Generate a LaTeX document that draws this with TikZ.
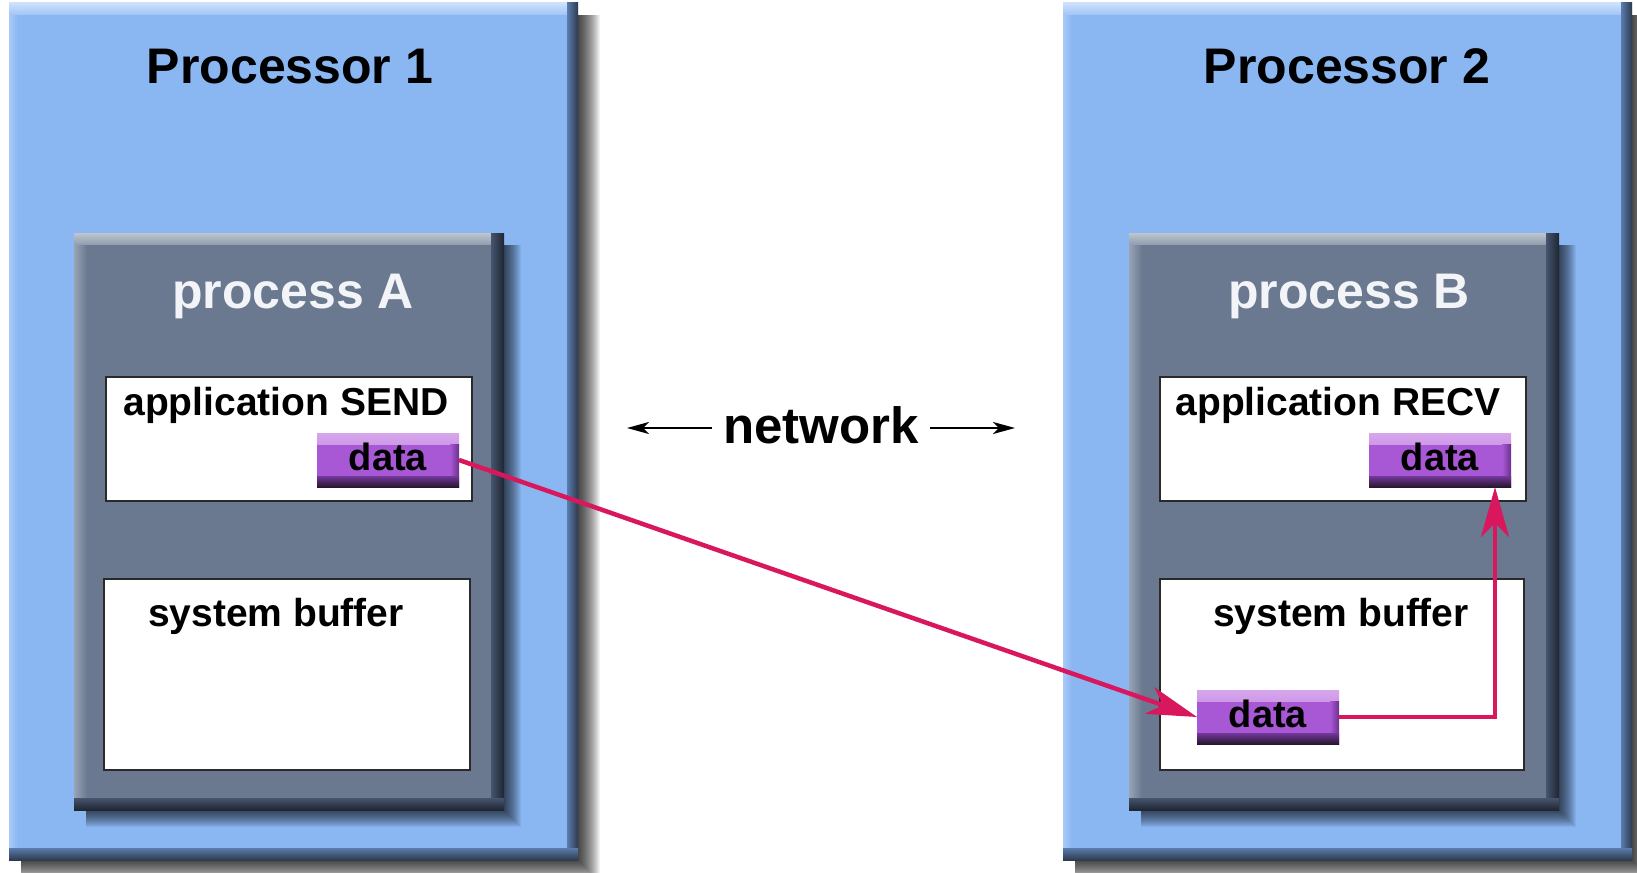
\documentclass[tikz,border=0pt]{standalone}
\usepackage{fontspec}
\setmainfont{Liberation Sans}
\usetikzlibrary{arrows.meta}
\definecolor{procblue}{HTML}{8AB6F2}
\definecolor{proctop}{HTML}{CCE1FD}
\definecolor{proctop2}{HTML}{A2C4F6}
\definecolor{procleft}{HTML}{A8CAF8}
\definecolor{procdarkA}{HTML}{5A7CAE}
\definecolor{procdarkB}{HTML}{2E3A4E}
\definecolor{pgray}{HTML}{6A7990}
\definecolor{pgtop}{HTML}{BEC5D0}
\definecolor{pgtop2}{HTML}{939FB0}
\definecolor{pgleft}{HTML}{98A4B5}
\definecolor{pgdarkA}{HTML}{465470}
\definecolor{pgdarkB}{HTML}{1F2630}
\definecolor{wborder}{HTML}{2A2A2A}
\definecolor{dmid}{HTML}{A858D4}
\definecolor{dtop}{HTML}{D6A6EC}
\definecolor{dtop2}{HTML}{B06CDA}
\definecolor{dbotA}{HTML}{74389C}
\definecolor{dbotB}{HTML}{28162F}
\definecolor{dright}{HTML}{6C3090}
\definecolor{arrowred}{HTML}{D8175C}
\definecolor{ptext}{HTML}{F2F4F8}

\newcommand\dropshade[2]{%
  \foreach \s in {#2}{\fill[black,opacity=.05] ([shift={(12,12)}]#1.north west) rectangle ([shift={(\s,\s)}]#1.south east);}}
\newcommand\procbevel[1]{%
  \fill[left color=procleft,right color=procblue] (#1.north west) rectangle ([xshift=9pt]#1.south west);
  \fill[top color=proctop,bottom color=proctop2] (#1.north west) rectangle ([yshift=-12pt]#1.north east);
  \fill[left color=procdarkA,right color=procdarkB] ([xshift=-11pt]#1.north east) rectangle (#1.south east);
  \fill[top color=procdarkA,bottom color=procdarkB] ([yshift=12pt]#1.south west) rectangle (#1.south east);}
\newcommand\pgbevel[1]{%
  \fill[left color=pgleft,right color=pgray] (#1.north west) rectangle ([xshift=13pt]#1.south west);
  \fill[top color=pgtop,bottom color=pgtop2] (#1.north west) rectangle ([yshift=-11pt]#1.north east);
  \fill[left color=pgdarkA,right color=pgdarkB] ([xshift=-13pt]#1.north east) rectangle (#1.south east);
  \fill[top color=pgdarkA,bottom color=pgdarkB] ([yshift=12pt]#1.south west) rectangle (#1.south east);}

\tikzset{
  procbox/.style={fill=procblue, inner sep=0pt, outer sep=0pt, anchor=north west},
  pbox/.style={fill=pgray, inner sep=0pt, outer sep=0pt, anchor=north west},
  wbox/.style={fill=white, draw=wborder, line width=2.5pt, inner sep=0pt, outer sep=0pt, anchor=north west},
  databox/.style={fill=dmid, inner sep=0pt, outer sep=0pt, anchor=north west,
    minimum width=142pt, minimum height=54pt, text height=27pt, text depth=6pt,
    font=\fontsize{38}{44}\selectfont\bfseries,
    path picture={
      \fill[top color=dtop,bottom color=dtop2] (path picture bounding box.north west) rectangle ([yshift=-11pt]path picture bounding box.north east);
      \fill[left color=dmid,right color=dright] ([xshift=-9pt,yshift=-11pt]path picture bounding box.north east) rectangle (path picture bounding box.south east);
      \fill[top color=dbotA,bottom color=dbotB] ([yshift=11pt]path picture bounding box.south west) rectangle (path picture bounding box.south east);
    }},
  bigtext/.style={font=\fontsize{50}{60}\selectfont\bfseries, inner sep=0pt, anchor=base},
  medtext/.style={font=\fontsize{39}{47}\selectfont\bfseries, inner sep=0pt, anchor=base},
  redarrow/.style={draw=arrowred, line width=4.5pt, -{Stealth[length=50pt,width=28pt,inset=14pt]}},
  netarrow/.style={draw=black, line width=2pt, -{Stealth[length=22pt,width=12pt,inset=6pt]}}
}

\begin{document}
\begin{tikzpicture}[x=1pt,y=-1pt]
\useasboundingbox (0,0) rectangle (1637,872);
\fill[white] (0,0) rectangle (1637,872);

% processors
\node[procbox, minimum width=569pt, minimum height=857pt] (P1) at (9,3) {};
\node[procbox, minimum width=569pt, minimum height=857pt] (P2) at (1063,3) {};
\dropshade{P1}{1,2,...,22}
\dropshade{P2}{1,2,...,22}
\node[procbox, minimum width=569pt, minimum height=857pt] at (P1.north west) {};
\node[procbox, minimum width=569pt, minimum height=857pt] at (P2.north west) {};
\procbevel{P1}
\procbevel{P2}

% processes
\node[pbox, minimum width=430pt, minimum height=577pt] (PA) at (74,233) {};
\node[pbox, minimum width=430pt, minimum height=577pt] (PB) at (1129,233) {};
\dropshade{PA}{1,2,...,17}
\dropshade{PB}{1,2,...,17}
\node[pbox, minimum width=430pt, minimum height=577pt] at (PA.north west) {};
\node[pbox, minimum width=430pt, minimum height=577pt] at (PB.north west) {};
\pgbevel{PA}
\pgbevel{PB}

% white boxes
\node[wbox, minimum width=366pt, minimum height=124pt] (SEND) at (106,377) {};
\node[wbox, minimum width=366pt, minimum height=124pt] (RECV) at (1160,377) {};
\node[wbox, minimum width=366pt, minimum height=191pt] (SBA) at (104,579) {};
\node[wbox, minimum width=364pt, minimum height=191pt] (SBB) at (1160,579) {};

% data boxes
\node[databox] (SD) at (317,433) {data};
\node[databox] (RD) at (1369,433) {data};
\node[databox] (BD) at (1197,690) {data};

% texts
\node[bigtext] (t1) at (290,84) {Processor 1};
\node[bigtext] (t2) at (1347,84) {Processor 2};
\node[bigtext, text=ptext] (ta) at (293,308) {process A};
\node[bigtext, text=ptext] (tb) at (1349,308) {process B};
\node[medtext] (as) at (286,415) {application SEND};
\node[medtext] (ar) at (1338,415) {application RECV};
\node[medtext] (sa) at (276,626) {system buffer};
\node[medtext] (sb) at (1341,626) {system buffer};
\node[bigtext, font=\fontsize{51}{60}\selectfont\bfseries] (net) at (821,443) {network};

% network arrows
\coordinate (nLs) at (712,428);
\coordinate (nL) at (627,428);
\coordinate (nRs) at (930,428);
\coordinate (nR) at (1015,428);
\draw[netarrow] (nLs) -- (nL);
\draw[netarrow] (nRs) -- (nR);

% data flow
\coordinate (turn) at (1495,717);
\draw[redarrow] (SD.east) -- (BD.west);
\draw[redarrow] (BD.east) -- (turn) -- (turn |- RD.south);
\end{tikzpicture}
\end{document}
